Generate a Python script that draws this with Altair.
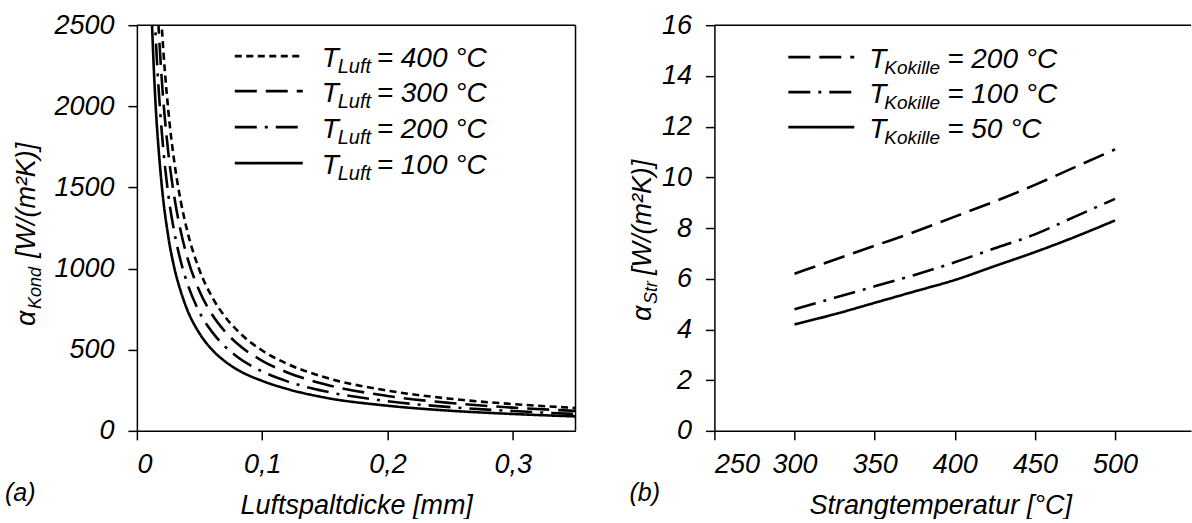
import altair as alt
import pandas as pd

FONT = "Liberation Sans"

# ---------------- data ----------------
gap_mm = [0.010, 0.0125, 0.015, 0.0175, 0.020, 0.025, 0.030, 0.035, 0.040, 0.050,
          0.060, 0.070, 0.080, 0.100, 0.120, 0.150, 0.200, 0.250, 0.300, 0.350]
alpha_luft_400 = [4950, 3960, 3300, 2830, 2475, 1980, 1650, 1415, 1238, 990,
                  825, 707, 619, 495, 413, 330, 248, 198, 165, 141]
alpha_luft_300 = [4300, 3440, 2870, 2460, 2150, 1720, 1435, 1230, 1075, 860,
                  717, 615, 538, 432, 360, 287, 215, 172, 143, 123]
alpha_luft_200 = [3650, 2920, 2430, 2090, 1830, 1460, 1220, 1045, 915, 730,
                  610, 522, 457, 366, 305, 244, 183, 146, 122, 104]
alpha_luft_100 = [3000, 2420, 2000, 1720, 1500, 1200, 1000, 860, 750, 600,
                  500, 430, 378, 308, 258, 205, 155, 124, 104, 89]
luft_labels = ["400", "300", "200", "100"]

strang_T = [300, 325, 350, 375, 400, 425, 450, 475, 500]
alpha_kok_200 = [6.2, 6.75, 7.3, 7.85, 8.45, 9.05, 9.7, 10.4, 11.1]
alpha_kok_100 = [4.8, 5.25, 5.7, 6.15, 6.65, 7.2, 7.75, 8.45, 9.15]
alpha_kok_50 = [4.2, 4.6, 5.05, 5.5, 5.95, 6.5, 7.05, 7.65, 8.3]
kok_labels = ["200", "100", "50"]

left_x_ticks = [0, 0.1, 0.2, 0.3]
left_y_ticks = [0, 500, 1000, 1500, 2000, 2500]
right_x_ticks = [250, 300, 350, 400, 450, 500]
right_y_ticks = [0, 2, 4, 6, 8, 10, 12, 14, 16]

# ---------------- styles ----------------
dash_short = [7, 4.5]
dash_long = [22, 9]
dash_dot = [22, 8, 3, 8]
dash_solid = [1, 0]
LW = 2.6

WL, HL = 439, 406
WR, HR = 477, 406

one = pd.DataFrame({"k": [0]})

# ---------------- left panel ----------------
rows = []
for lab, vals in zip(luft_labels, [alpha_luft_400, alpha_luft_300, alpha_luft_200, alpha_luft_100]):
    for d, a in zip(gap_mm, vals):
        rows.append({"d": d, "a": a, "s": "L" + lab})
df_left = pd.DataFrame(rows)

left_keys = ["L" + l for l in luft_labels]
dash_scale_left = alt.Scale(domain=left_keys, range=[dash_short, dash_long, dash_dot, dash_solid])

left_lines = alt.Chart(df_left).mark_line(
    color="black", strokeWidth=LW, clip=True, interpolate="monotone"
).encode(
    x=alt.X("d:Q", scale=alt.Scale(domain=[0, 0.35], nice=False, zero=False),
            axis=alt.Axis(values=left_x_ticks, title="Luftspaltdicke [mm]",
                          labelExpr="datum.value == 0 ? '0' : replace(format(datum.value, '.1f'), '.', ',')")),
    y=alt.Y("a:Q", scale=alt.Scale(domain=[0, 2500], nice=False),
            axis=alt.Axis(values=left_y_ticks, title=None, format="d")),
    strokeDash=alt.StrokeDash("s:N", scale=dash_scale_left, legend=None),
    detail="s:N",
)
left_top = alt.Chart(one).mark_rule(color="black", strokeWidth=1.5).encode(
    x=alt.value(0), x2=alt.value(WL), y=alt.value(0))
left_right = alt.Chart(one).mark_rule(color="black", strokeWidth=1.5).encode(
    x=alt.value(WL), y=alt.value(0), y2=alt.value(HL))

leg_left = pd.DataFrame({
    "s": left_keys,
    "y": [31, 66, 102, 138],
    "x1": [98] * 4, "x2": [166] * 4,
    "main": ["T"] * 4,
    "sub": ["Luft"] * 4,
    "rest": ["= " + l + " °C" for l in luft_labels],
})
leg_left["yt"] = leg_left["y"] + 11
leg_left["ys"] = leg_left["y"] + 17

left_leg_lines = alt.Chart(leg_left).mark_rule(color="black", strokeWidth=LW).encode(
    x=alt.X("x1:Q", scale=None), x2="x2:Q", y=alt.Y("y:Q", scale=None),
    strokeDash=alt.StrokeDash("s:N", scale=dash_scale_left, legend=None),
)
left_leg_T = alt.Chart(leg_left).mark_text(font=FONT, fontStyle="italic", fontSize=28, align="left",
                                           baseline="alphabetic").encode(
    x=alt.value(185), y=alt.Y("yt:Q", scale=None), text="main:N")
left_leg_sub = alt.Chart(leg_left).mark_text(font=FONT, fontStyle="italic", fontSize=20, align="left",
                                             baseline="alphabetic").encode(
    x=alt.value(201), y=alt.Y("ys:Q", scale=None), text="sub:N")
left_leg_rest = alt.Chart(leg_left).mark_text(font=FONT, fontStyle="italic", fontSize=28, align="left",
                                              baseline="alphabetic").encode(
    x=alt.value(240), y=alt.Y("yt:Q", scale=None), text="rest:N")

ytitle_left = pd.DataFrame({"t": ["α", "Kond", "[W/(m²K)]"], "x": [-102, -96, -102], "y": [301, 284, 233],
                            "fs": [27, 18, 27]})
left_ytitle = alt.Chart(ytitle_left).mark_text(font=FONT, fontStyle="italic", angle=270, align="left",
                                               baseline="alphabetic").encode(
    x=alt.X("x:Q", scale=None), y=alt.Y("y:Q", scale=None), text="t:N",
    size=alt.Size("fs:Q", scale=None, legend=None))

left_tag = alt.Chart(pd.DataFrame({"t": ["(a)"]})).mark_text(
    font=FONT, fontStyle="italic", fontSize=25, align="left", baseline="alphabetic").encode(
    x=alt.value(-132), y=alt.value(476), text="t:N")

left = alt.layer(left_lines, left_top, left_right, left_leg_lines, left_leg_T, left_leg_sub,
                 left_leg_rest, left_ytitle, left_tag).properties(width=WL, height=HL)

# ---------------- right panel ----------------
rows = []
for lab, vals in zip(kok_labels, [alpha_kok_200, alpha_kok_100, alpha_kok_50]):
    for t, a in zip(strang_T, vals):
        rows.append({"T": t, "a": a, "s": "K" + lab})
df_right = pd.DataFrame(rows)

right_keys = ["K" + l for l in kok_labels]
dash_scale_right = alt.Scale(domain=right_keys, range=[dash_long, dash_dot, dash_solid])

right_lines = alt.Chart(df_right).mark_line(
    color="black", strokeWidth=LW, clip=True, interpolate="monotone"
).encode(
    x=alt.X("T:Q", scale=alt.Scale(domain=[250, 547.4], nice=False, zero=False),
            axis=alt.Axis(values=right_x_ticks, title="Strangtemperatur [°C]", titleX=226)),
    y=alt.Y("a:Q", scale=alt.Scale(domain=[0, 16], nice=False),
            axis=alt.Axis(values=right_y_ticks, title=None)),
    strokeDash=alt.StrokeDash("s:N", scale=dash_scale_right, legend=None),
    detail="s:N",
)
right_top = alt.Chart(one).mark_rule(color="black", strokeWidth=1.5).encode(
    x=alt.value(0), x2=alt.value(WR), y=alt.value(0))

leg_right = pd.DataFrame({
    "s": right_keys,
    "y": [32, 67, 102],
    "x1": [74] * 3, "x2": [140] * 3,
    "main": ["T"] * 3,
    "sub": ["Kokille"] * 3,
    "rest": ["= " + l + " °C" for l in kok_labels],
})
leg_right["yt"] = leg_right["y"] + 11
leg_right["ys"] = leg_right["y"] + 17

right_leg_lines = alt.Chart(leg_right).mark_rule(color="black", strokeWidth=LW).encode(
    x=alt.X("x1:Q", scale=None), x2="x2:Q", y=alt.Y("y:Q", scale=None),
    strokeDash=alt.StrokeDash("s:N", scale=dash_scale_right, legend=None),
)
right_leg_T = alt.Chart(leg_right).mark_text(font=FONT, fontStyle="italic", fontSize=28, align="left",
                                             baseline="alphabetic").encode(
    x=alt.value(155), y=alt.Y("yt:Q", scale=None), text="main:N")
right_leg_sub = alt.Chart(leg_right).mark_text(font=FONT, fontStyle="italic", fontSize=19, align="left",
                                               baseline="alphabetic").encode(
    x=alt.value(170), y=alt.Y("ys:Q", scale=None), text="sub:N")
right_leg_rest = alt.Chart(leg_right).mark_text(font=FONT, fontStyle="italic", fontSize=28, align="left",
                                                baseline="alphabetic").encode(
    x=alt.value(233), y=alt.Y("yt:Q", scale=None), text="rest:N")

ytitle_right = pd.DataFrame({"t": ["α", "Str", "[W/(m²K)]"], "x": [-63, -57, -63], "y": [296, 279, 250],
                             "fs": [27, 18, 27]})
right_ytitle = alt.Chart(ytitle_right).mark_text(font=FONT, fontStyle="italic", angle=270, align="left",
                                                 baseline="alphabetic").encode(
    x=alt.X("x:Q", scale=None), y=alt.Y("y:Q", scale=None), text="t:N",
    size=alt.Size("fs:Q", scale=None, legend=None))

right_tag = alt.Chart(pd.DataFrame({"t": ["(b)"]})).mark_text(
    font=FONT, fontStyle="italic", fontSize=25, align="left", baseline="alphabetic").encode(
    x=alt.value(-85), y=alt.value(476), text="t:N")

right = alt.layer(right_lines, right_top, right_leg_lines, right_leg_T, right_leg_sub, right_leg_rest,
                  right_ytitle, right_tag).properties(width=WR, height=HR)

chart = alt.hconcat(left, right, spacing=139, bounds="flush").resolve_scale(
    strokeDash="independent"
).properties(
    padding={"left": 5, "right": 0, "top": 11, "bottom": 0},
    background="white",
).configure_axis(
    labelFont=FONT, labelFontStyle="italic", labelFontSize=27, labelColor="black",
    titleFont=FONT, titleFontStyle="italic", titleFontSize=27, titleColor="black", titleFontWeight="normal",
    domainColor="black", domainWidth=1.5, tickColor="black", tickWidth=1.5, tickSize=9,
    grid=False, titlePadding=15,
).configure_axisX(labelPadding=12).configure_axisY(labelPadding=14).configure_view(strokeWidth=0)

chart.save("out.html", embed_options={"renderer": "svg", "actions": False})
